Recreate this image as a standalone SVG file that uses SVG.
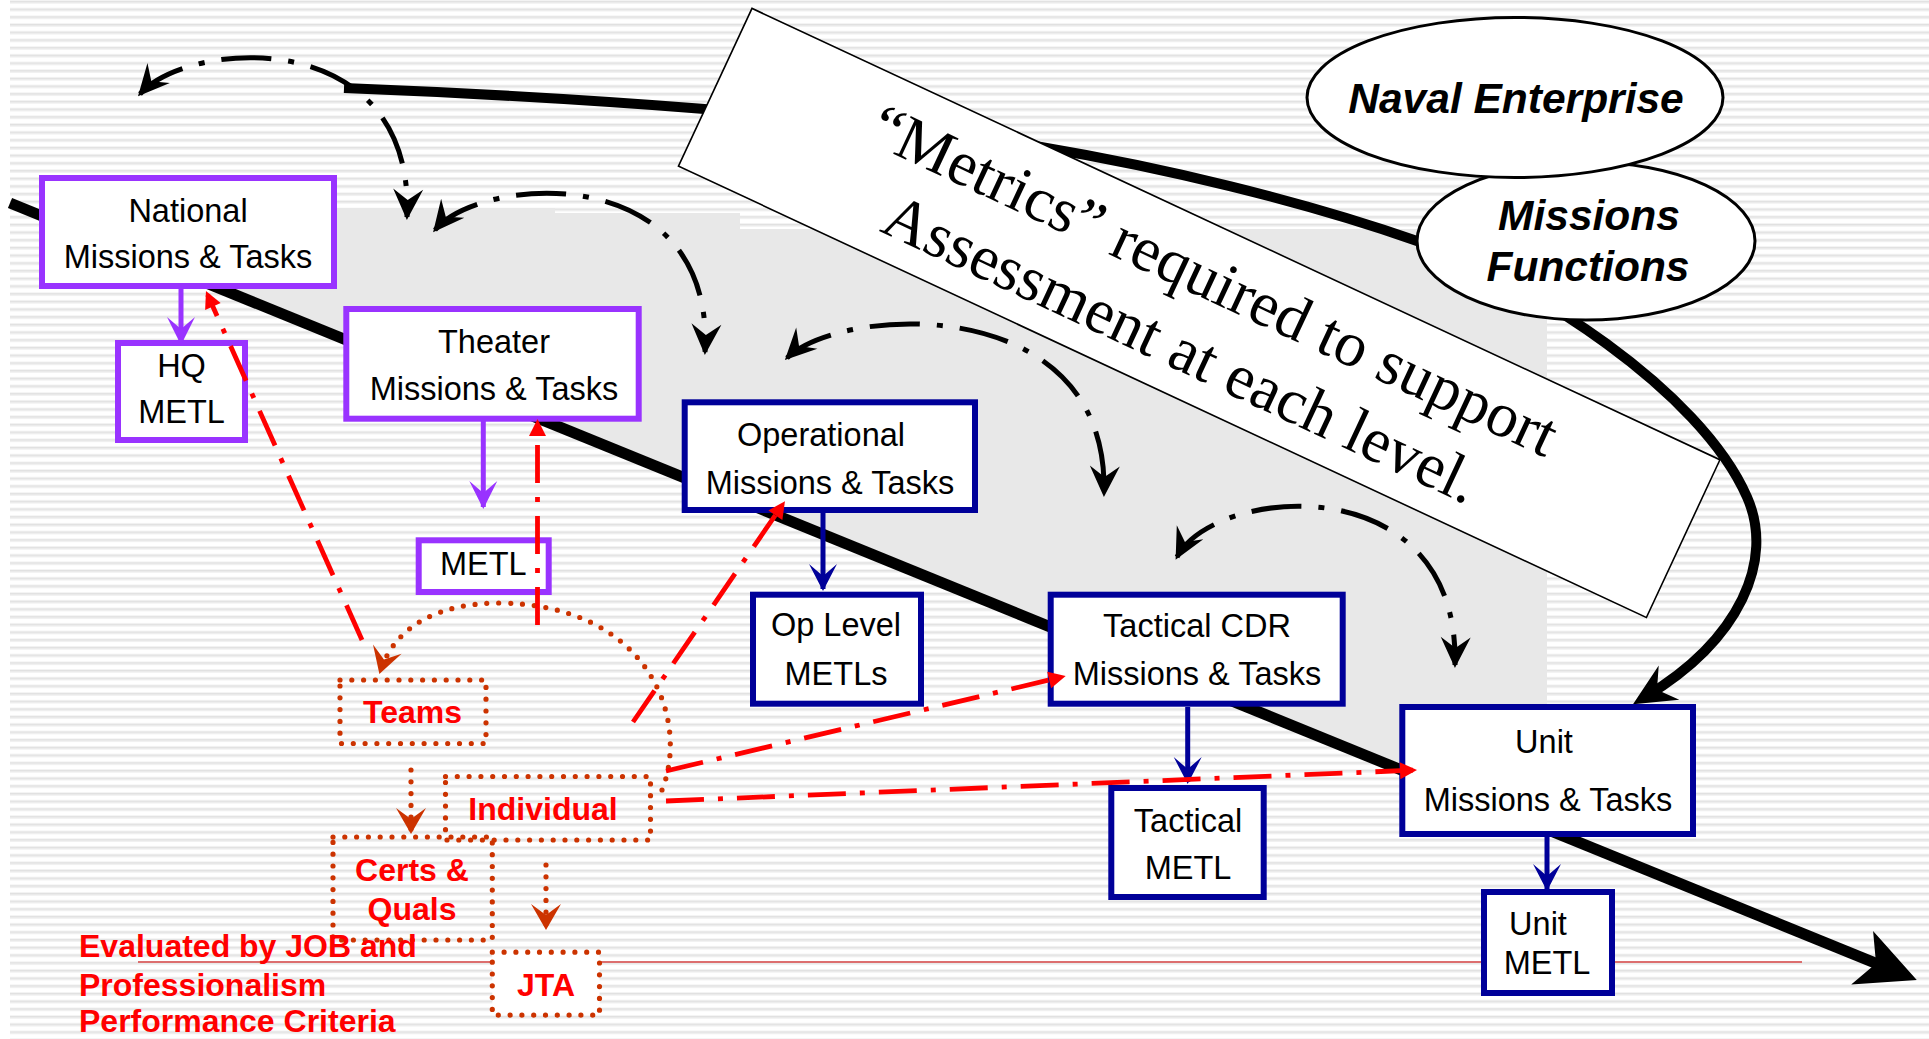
<svg xmlns="http://www.w3.org/2000/svg" width="1929" height="1039" viewBox="0 0 1929 1039">
  <defs>
    <pattern id="stripes" patternUnits="userSpaceOnUse" width="40" height="7.69">
      <rect width="40" height="7.69" fill="#ffffff"/>
      <rect y="0.6" width="40" height="2" fill="#e1e1e1"/>
      <rect y="2.6" width="40" height="1" fill="#eeeeee"/>
    </pattern>
    <!-- arrowheads -->
    <marker id="mBlack" markerUnits="userSpaceOnUse" markerWidth="40" markerHeight="40" orient="auto-start-reverse" overflow="visible">
      <path d="M3,0 L-28,-15 L-17,0 L-28,15 Z" fill="#000"/>
    </marker>
    <marker id="mPurple" markerUnits="userSpaceOnUse" markerWidth="40" markerHeight="40" orient="auto" overflow="visible">
      <path d="M2,0 L-26,-14 L-14,0 L-26,14 Z" fill="#9933ff"/>
    </marker>
    <marker id="mBlue" markerUnits="userSpaceOnUse" markerWidth="40" markerHeight="40" orient="auto" overflow="visible">
      <path d="M2,0 L-25,-14 L-13,0 L-25,14 Z" fill="#000099"/>
    </marker>
    <marker id="mBrown" markerUnits="userSpaceOnUse" markerWidth="40" markerHeight="40" orient="auto" overflow="visible">
      <path d="M2,0 L-24,-15 L-13,0 L-24,15 Z" fill="#cc3300"/>
    </marker>
    <marker id="mRed" markerUnits="userSpaceOnUse" markerWidth="30" markerHeight="30" orient="auto" overflow="visible">
      <path d="M4,0 L-13,-8.5 L-13,8.5 Z" fill="#ff0000"/>
    </marker>
    <marker id="mCurve" markerUnits="userSpaceOnUse" markerWidth="60" markerHeight="60" orient="auto" overflow="visible">
      <path d="M14,0 L-28,-20 L-14,0 L-28,20 Z" fill="#000"/>
    </marker>
    <marker id="mDiag" markerUnits="userSpaceOnUse" markerWidth="80" markerHeight="80" orient="auto" overflow="visible">
      <path d="M30,0 L-29,-29 L-14,0 L-29,29 Z" fill="#000"/>
    </marker>
  </defs>
  <style>
    .box rect { fill: #ffffff; stroke-width: 6; }
    .purple rect { stroke: #9933ff; }
    .blue rect { stroke: #000099; }
    .lbl { font-family: "Liberation Sans", Arial, sans-serif; font-size: 32.5px; fill: #000; text-anchor: middle; }
    .red { font-family: "Liberation Sans", Arial, sans-serif; font-weight: bold; font-size: 32px; fill: #ff0000; text-anchor: middle; }
    .note { text-anchor: start; }
    .oval { font-family: "Liberation Sans", Arial, sans-serif; font-weight: bold; font-style: italic; font-size: 42.5px; fill: #000; text-anchor: middle; }
    .dotbox { fill: none; stroke: #cc3300; stroke-width: 5.2; stroke-linecap: round; stroke-dasharray: 0 11.8; }
    .dotline { fill: none; stroke: #cc3300; stroke-width: 5.2; stroke-linecap: round; stroke-dasharray: 0 11.8; }
    .dd { fill: none; stroke: #000; stroke-width: 5; stroke-dasharray: 50 17 6 17; marker-start: url(#mBlack); marker-end: url(#mBlack); }
    .rdd { fill: none; stroke: #ff0000; stroke-width: 4.8; stroke-dasharray: 38 14 5 14; marker-end: url(#mRed); }
  </style>

  <!-- backdrop -->
  <g id="backdrop">
    <rect width="1929" height="1039" fill="#ffffff"/>
    <rect x="10" width="1919" height="1039" fill="url(#stripes)"/>
    <polygon points="40,208 555,208 555,213 740,213 740,229 1547,229 1547,829 40,215" fill="#e8e8e8"/>
    <line x1="138" y1="962" x2="1802" y2="962" stroke="#dc6e6e" stroke-width="2"/>
    <!-- enterprise loop -->
    <path d="M344,88 C550,96 850,115 1041,147 C1160,167 1300,200 1417,241 C1530,281 1700,390 1747,497 C1775,560 1740,640 1645,697" fill="none" stroke="#000" stroke-width="10" marker-end="url(#mCurve)"/>
    <!-- command level axis -->
    <path d="M10,203 L1889,968.7" fill="none" stroke="#000" stroke-width="11" marker-end="url(#mDiag)"/>
  </g>

  <!-- metrics banner -->
  <g id="banner" transform="translate(752,8.4) rotate(25)">
    <rect x="0" y="0" width="1068" height="174" fill="#ffffff" stroke="#000" stroke-width="1.6"/>
    <text x="534" y="72" font-family="'Liberation Serif', 'Times New Roman', serif" font-size="63.5" text-anchor="middle" fill="#000">“Metrics” required to support</text>
    <text x="533" y="148" font-family="'Liberation Serif', 'Times New Roman', serif" font-size="63.5" text-anchor="middle" fill="#000">Assessment at each level.</text>
  </g>

  <g id="missions-functions">
    <ellipse cx="1586" cy="241" rx="169" ry="79" fill="#ffffff" stroke="#000" stroke-width="3"/>
    <text class="oval" x="1589" y="230">Missions</text>
    <text class="oval" x="1588" y="281">Functions</text>
  </g>
  <g id="naval-enterprise">
    <ellipse cx="1515" cy="97.5" rx="208" ry="80" fill="#ffffff" stroke="#000" stroke-width="3"/>
    <text class="oval" x="1516" y="113">Naval Enterprise</text>
  </g>

  <!-- command level nodes -->
  <g id="national" class="box purple">
    <rect x="42" y="178" width="292" height="108"/>
    <text class="lbl" x="188" y="222">National</text>
    <text class="lbl" x="188" y="268">Missions &amp; Tasks</text>
  </g>
  <g id="hq-metl" class="box purple">
    <rect x="118" y="343" width="127" height="97"/>
    <text class="lbl" x="181.5" y="377">HQ</text>
    <text class="lbl" x="181.5" y="423">METL</text>
  </g>
  <g id="theater" class="box purple">
    <rect x="346.3" y="309" width="292.4" height="109.7"/>
    <text class="lbl" x="494" y="353">Theater</text>
    <text class="lbl" x="494" y="400">Missions &amp; Tasks</text>
  </g>
  <g id="theater-metl" class="box purple">
    <rect x="418.7" y="540.3" width="130" height="51.7"/>
    <text class="lbl" x="483.3" y="575">METL</text>
  </g>
  <g id="operational" class="box blue">
    <rect x="684.7" y="402.3" width="290.3" height="107.7"/>
    <text class="lbl" x="821" y="446">Operational</text>
    <text class="lbl" x="830" y="494">Missions &amp; Tasks</text>
  </g>
  <g id="op-level-metls" class="box blue">
    <rect x="753" y="594.7" width="168" height="109"/>
    <text class="lbl" x="836" y="636">Op Level</text>
    <text class="lbl" x="836" y="685">METLs</text>
  </g>
  <g id="tactical-cdr" class="box blue">
    <rect x="1050.7" y="594.7" width="292" height="109"/>
    <text class="lbl" x="1197" y="637">Tactical CDR</text>
    <text class="lbl" x="1197" y="685">Missions &amp; Tasks</text>
  </g>
  <g id="tactical-metl" class="box blue">
    <rect x="1111.3" y="788" width="152.4" height="109"/>
    <text class="lbl" x="1188" y="832">Tactical</text>
    <text class="lbl" x="1188" y="879">METL</text>
  </g>
  <g id="unit" class="box blue">
    <rect x="1402.3" y="707" width="290.7" height="127"/>
    <text class="lbl" x="1544" y="753">Unit</text>
    <text class="lbl" x="1548" y="811">Missions &amp; Tasks</text>
  </g>
  <g id="unit-metl" class="box blue">
    <rect x="1484" y="892" width="128" height="101"/>
    <text class="lbl" x="1538" y="935">Unit</text>
    <text class="lbl" x="1547" y="974">METL</text>
  </g>

  <!-- training nodes -->
  <g id="teams">
    <rect class="dotbox" x="340" y="680" width="146" height="63.5"/>
    <text class="red" x="412.5" y="723">Teams</text>
  </g>
  <g id="individual">
    <rect class="dotbox" x="445.5" y="776.5" width="205" height="63.5"/>
    <text class="red" x="543" y="820">Individual</text>
  </g>
  <g id="certs-quals">
    <rect class="dotbox" x="333" y="837" width="159.3" height="103"/>
    <text class="red" x="412" y="881">Certs &amp;</text>
    <text class="red" x="412" y="920">Quals</text>
  </g>
  <g id="jta">
    <rect x="492.3" y="952.2" width="107.2" height="63" fill="#ffffff"/>
    <rect class="dotbox" x="492.3" y="952.2" width="107.2" height="63"/>
    <text class="red" x="546" y="996">JTA</text>
  </g>
  <g id="evaluation-note">
    <text class="red note" x="79" y="957">Evaluated by JOB and</text>
    <text class="red note" x="79" y="996">Professionalism</text>
    <text class="red note" x="79" y="1032">Performance Criteria</text>
  </g>

  <!-- connectors -->
  <g id="connectors">
    <!-- assessment feedback loops between levels -->
    <path class="dd" d="M140,94 C190,38 415,25 407,217"/>
    <path class="dd" d="M435,230 C480,175 715,158 705,352"/>
    <path class="dd" d="M787,358 C840,305 1110,290 1104,494"/>
    <path class="dd" d="M1177,557 C1215,485 1460,465 1455,665"/>

    <!-- missions to METL -->
    <line x1="181" y1="289" x2="181" y2="343" stroke="#9933ff" stroke-width="5" marker-end="url(#mPurple)"/>
    <line x1="483.3" y1="421" x2="483.3" y2="507" stroke="#9933ff" stroke-width="5" marker-end="url(#mPurple)"/>
    <line x1="823" y1="513" x2="823" y2="589" stroke="#000099" stroke-width="5" marker-end="url(#mBlue)"/>
    <line x1="1187.7" y1="707" x2="1187.7" y2="782" stroke="#000099" stroke-width="5" marker-end="url(#mBlue)"/>
    <line x1="1547" y1="837" x2="1547" y2="889" stroke="#000099" stroke-width="5" marker-end="url(#mBlue)"/>

    <!-- training feeds -->
    <path class="dotline" d="M662,790 C690,720 650,605 500,603 C440,603 395,625 380,672" marker-end="url(#mBrown)"/>
    <line class="dotline" x1="411" y1="770" x2="411" y2="832" marker-end="url(#mBrown)"/>
    <line class="dotline" x1="546" y1="865" x2="546" y2="928" marker-end="url(#mBrown)"/>

    <!-- red support lines -->
    <path class="rdd" d="M362,640 L207.6,294.7"/>
    <path class="rdd" d="M537.5,625 L537.5,423"/>
    <path class="rdd" d="M633,722 L782.7,504.5"/>
    <path class="rdd" d="M666,771 L1061.8,677"/>
    <path class="rdd" d="M666,801 L1413,770.2"/>
  </g>
</svg>
